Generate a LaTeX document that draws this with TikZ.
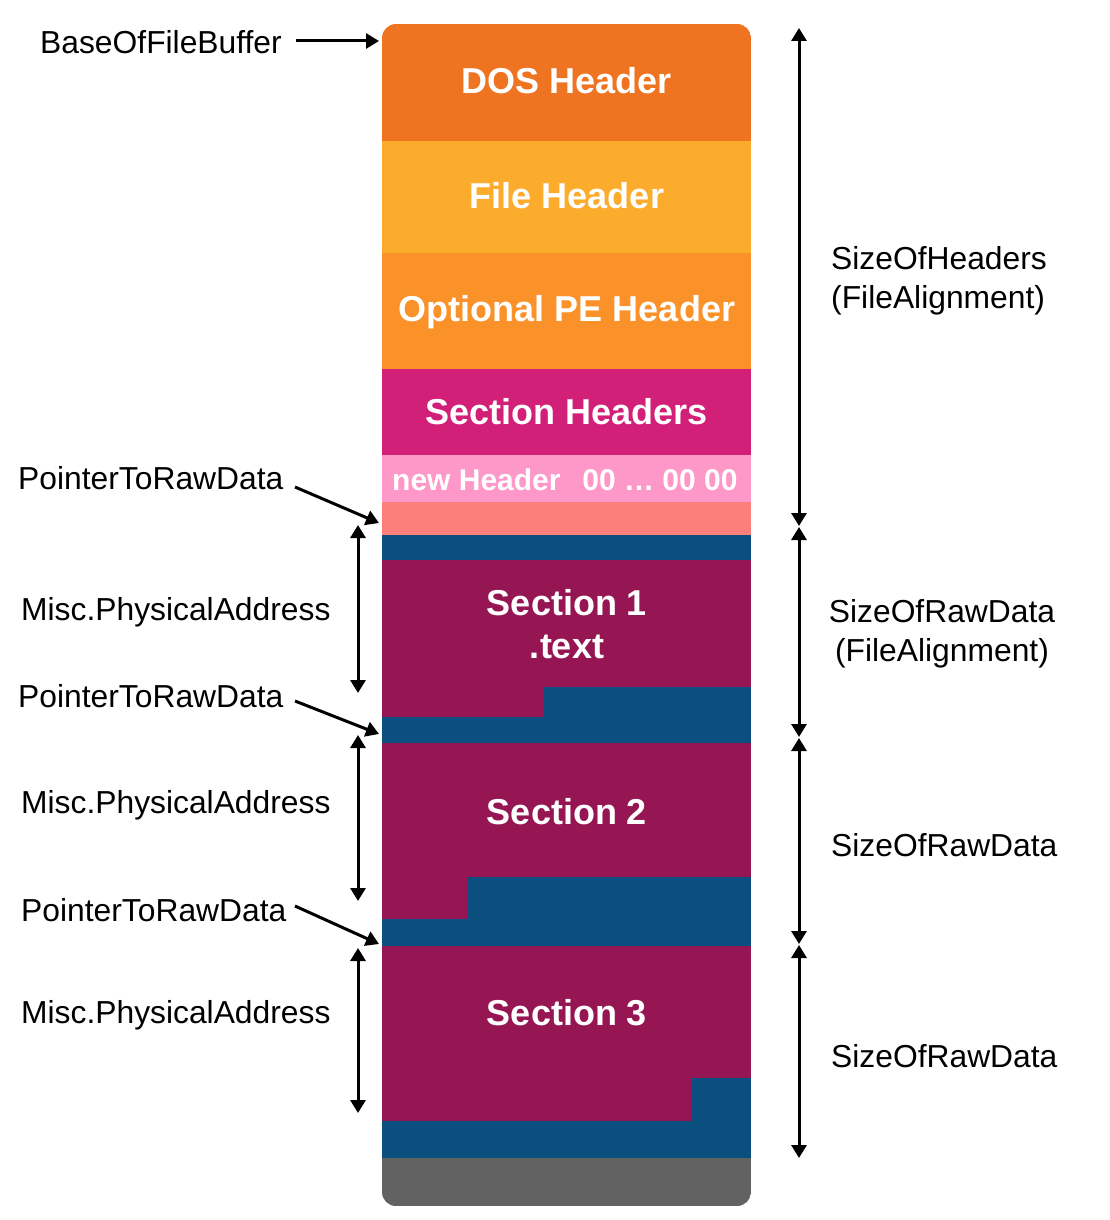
\documentclass[tikz,border=0pt]{standalone}
\usepackage{fontspec}
\setmainfont{Liberation Sans}
\usetikzlibrary{arrows.meta}
\definecolor{cDos}{HTML}{EF7422}
\definecolor{cFile}{HTML}{FBAC2D}
\definecolor{cOpt}{HTML}{FA9229}
\definecolor{cSecH}{HTML}{D21F77}
\definecolor{cPink}{HTML}{FD98C8}
\definecolor{cSalmon}{HTML}{FC7F7B}
\definecolor{cBlue}{HTML}{0A4F7E}
\definecolor{cPurple}{HTML}{951653}
\definecolor{cGray}{HTML}{626262}
\tikzset{
  blocktext/.style={text=white,font=\fontsize{36}{40}\selectfont\bfseries,align=center,inner sep=0pt},
  smalltext/.style={text=white,font=\fontsize{30}{34}\selectfont\bfseries,inner sep=0pt},
  lbl/.style={font=\fontsize{31.8}{38.5}\selectfont,inner sep=0pt,text=black},
  arr/.style={line width=3pt,-{Triangle[length=13pt,width=15pt]}},
  darr/.style={line width=3pt,{Triangle[length=13pt,width=15pt]}-{Triangle[length=13pt,width=15pt]}}
}
\begin{document}
\begin{tikzpicture}[x=1pt,y=-1pt]
\useasboundingbox (0,0) rectangle (1110,1220);
\begin{scope}
\clip[rounded corners=14pt] (382,24) rectangle (751,1206);
\fill[cDos] (382,24) rectangle (751,141);
\fill[cFile] (382,141) rectangle (751,253);
\fill[cOpt] (382,253) rectangle (751,369);
\fill[cSecH] (382,369) rectangle (751,455);
\fill[cPink] (382,455) rectangle (751,502);
\fill[cSalmon] (382,502) rectangle (751,535);
\fill[cBlue] (382,535) rectangle (751,560);
% section 1
\fill[cPurple] (382,560) rectangle (751,743);
\fill[cBlue] (544,687) rectangle (751,743);
\fill[cBlue] (382,717) rectangle (751,743);
% section 2
\fill[cPurple] (382,743) rectangle (751,946);
\fill[cBlue] (468,877) rectangle (751,946);
\fill[cBlue] (382,919) rectangle (751,946);
% section 3
\fill[cPurple] (382,946) rectangle (751,1158);
\fill[cBlue] (692,1078) rectangle (751,1158);
\fill[cBlue] (382,1121) rectangle (751,1158);
\fill[cGray] (382,1158) rectangle (751,1206);
\end{scope}

% block texts
\node[blocktext] (dos) at (567,81) {DOS Header};
\node[blocktext] (file) at (567,196) {File Header};
\node[blocktext] (opt) at (567,312) {Optional PE Header};
\node[blocktext] (sech) at (567,412) {Section Headers};
\node[smalltext,anchor=west] (newh) at (392,480) {new Header};
\node[smalltext] (zeros) at (660,480) {00 \ldots\ 00 00};
\node[blocktext] (s1) at (567,603) {Section 1};
\node[blocktext] (s1t) at (567,647) {.text};
\node[blocktext] (s2) at (567,812) {Section 2};
\node[blocktext] (s3) at (567,1013) {Section 3};

% left labels
\node[lbl,anchor=west] (base) at (40,42) {BaseOfFileBuffer};
\node[lbl,anchor=west] (ptr1) at (18,478) {PointerToRawData};
\node[lbl,anchor=west] (misc1) at (21,612) {Misc.PhysicalAddress};
\node[lbl,anchor=west] (ptr2) at (18,696) {PointerToRawData};
\node[lbl,anchor=west] (misc2) at (21,805) {Misc.PhysicalAddress};
\node[lbl,anchor=west] (ptr3) at (21,910) {PointerToRawData};
\node[lbl,anchor=west] (misc3) at (21,1015) {Misc.PhysicalAddress};

% right labels
\node[lbl,anchor=west,align=left] (soh) at (831,281) {SizeOfHeaders\\(FileAlignment)};
\node[lbl,align=center] (srd1) at (942,634) {SizeOfRawData\\(FileAlignment)};
\node[lbl,anchor=west] (srd2) at (831,845) {SizeOfRawData};
\node[lbl,anchor=west] (srd3) at (831,1056) {SizeOfRawData};

% coordinates
\coordinate (baseS) at (296,41);
\coordinate (baseE) at (379,41);
\coordinate (p1S) at (295,487);
\coordinate (p1E) at (379,523);
\coordinate (p2S) at (295,701);
\coordinate (p2E) at (379,734);
\coordinate (p3S) at (295,906);
\coordinate (p3E) at (379,944);
\coordinate (m1a) at (358,525);
\coordinate (m1b) at (358,693);
\coordinate (m2a) at (358,735);
\coordinate (m2b) at (358,901);
\coordinate (m3a) at (358,948);
\coordinate (m3b) at (358,1113);
\coordinate (r1a) at (799,28);
\coordinate (r1b) at (799,526);
\coordinate (r2a) at (799,527);
\coordinate (r2b) at (799,737);
\coordinate (r3a) at (799,738);
\coordinate (r3b) at (799,944);
\coordinate (r4a) at (799,945);
\coordinate (r4b) at (799,1158);

\draw[arr] (baseS) -- (baseE);
\draw[arr] (p1S) -- (p1E);
\draw[arr] (p2S) -- (p2E);
\draw[arr] (p3S) -- (p3E);
\draw[darr] (m1a) -- (m1b);
\draw[darr] (m2a) -- (m2b);
\draw[darr] (m3a) -- (m3b);
\draw[darr] (r1a) -- (r1b);
\draw[darr] (r2a) -- (r2b);
\draw[darr] (r3a) -- (r3b);
\draw[darr] (r4a) -- (r4b);
\end{tikzpicture}
\end{document}
